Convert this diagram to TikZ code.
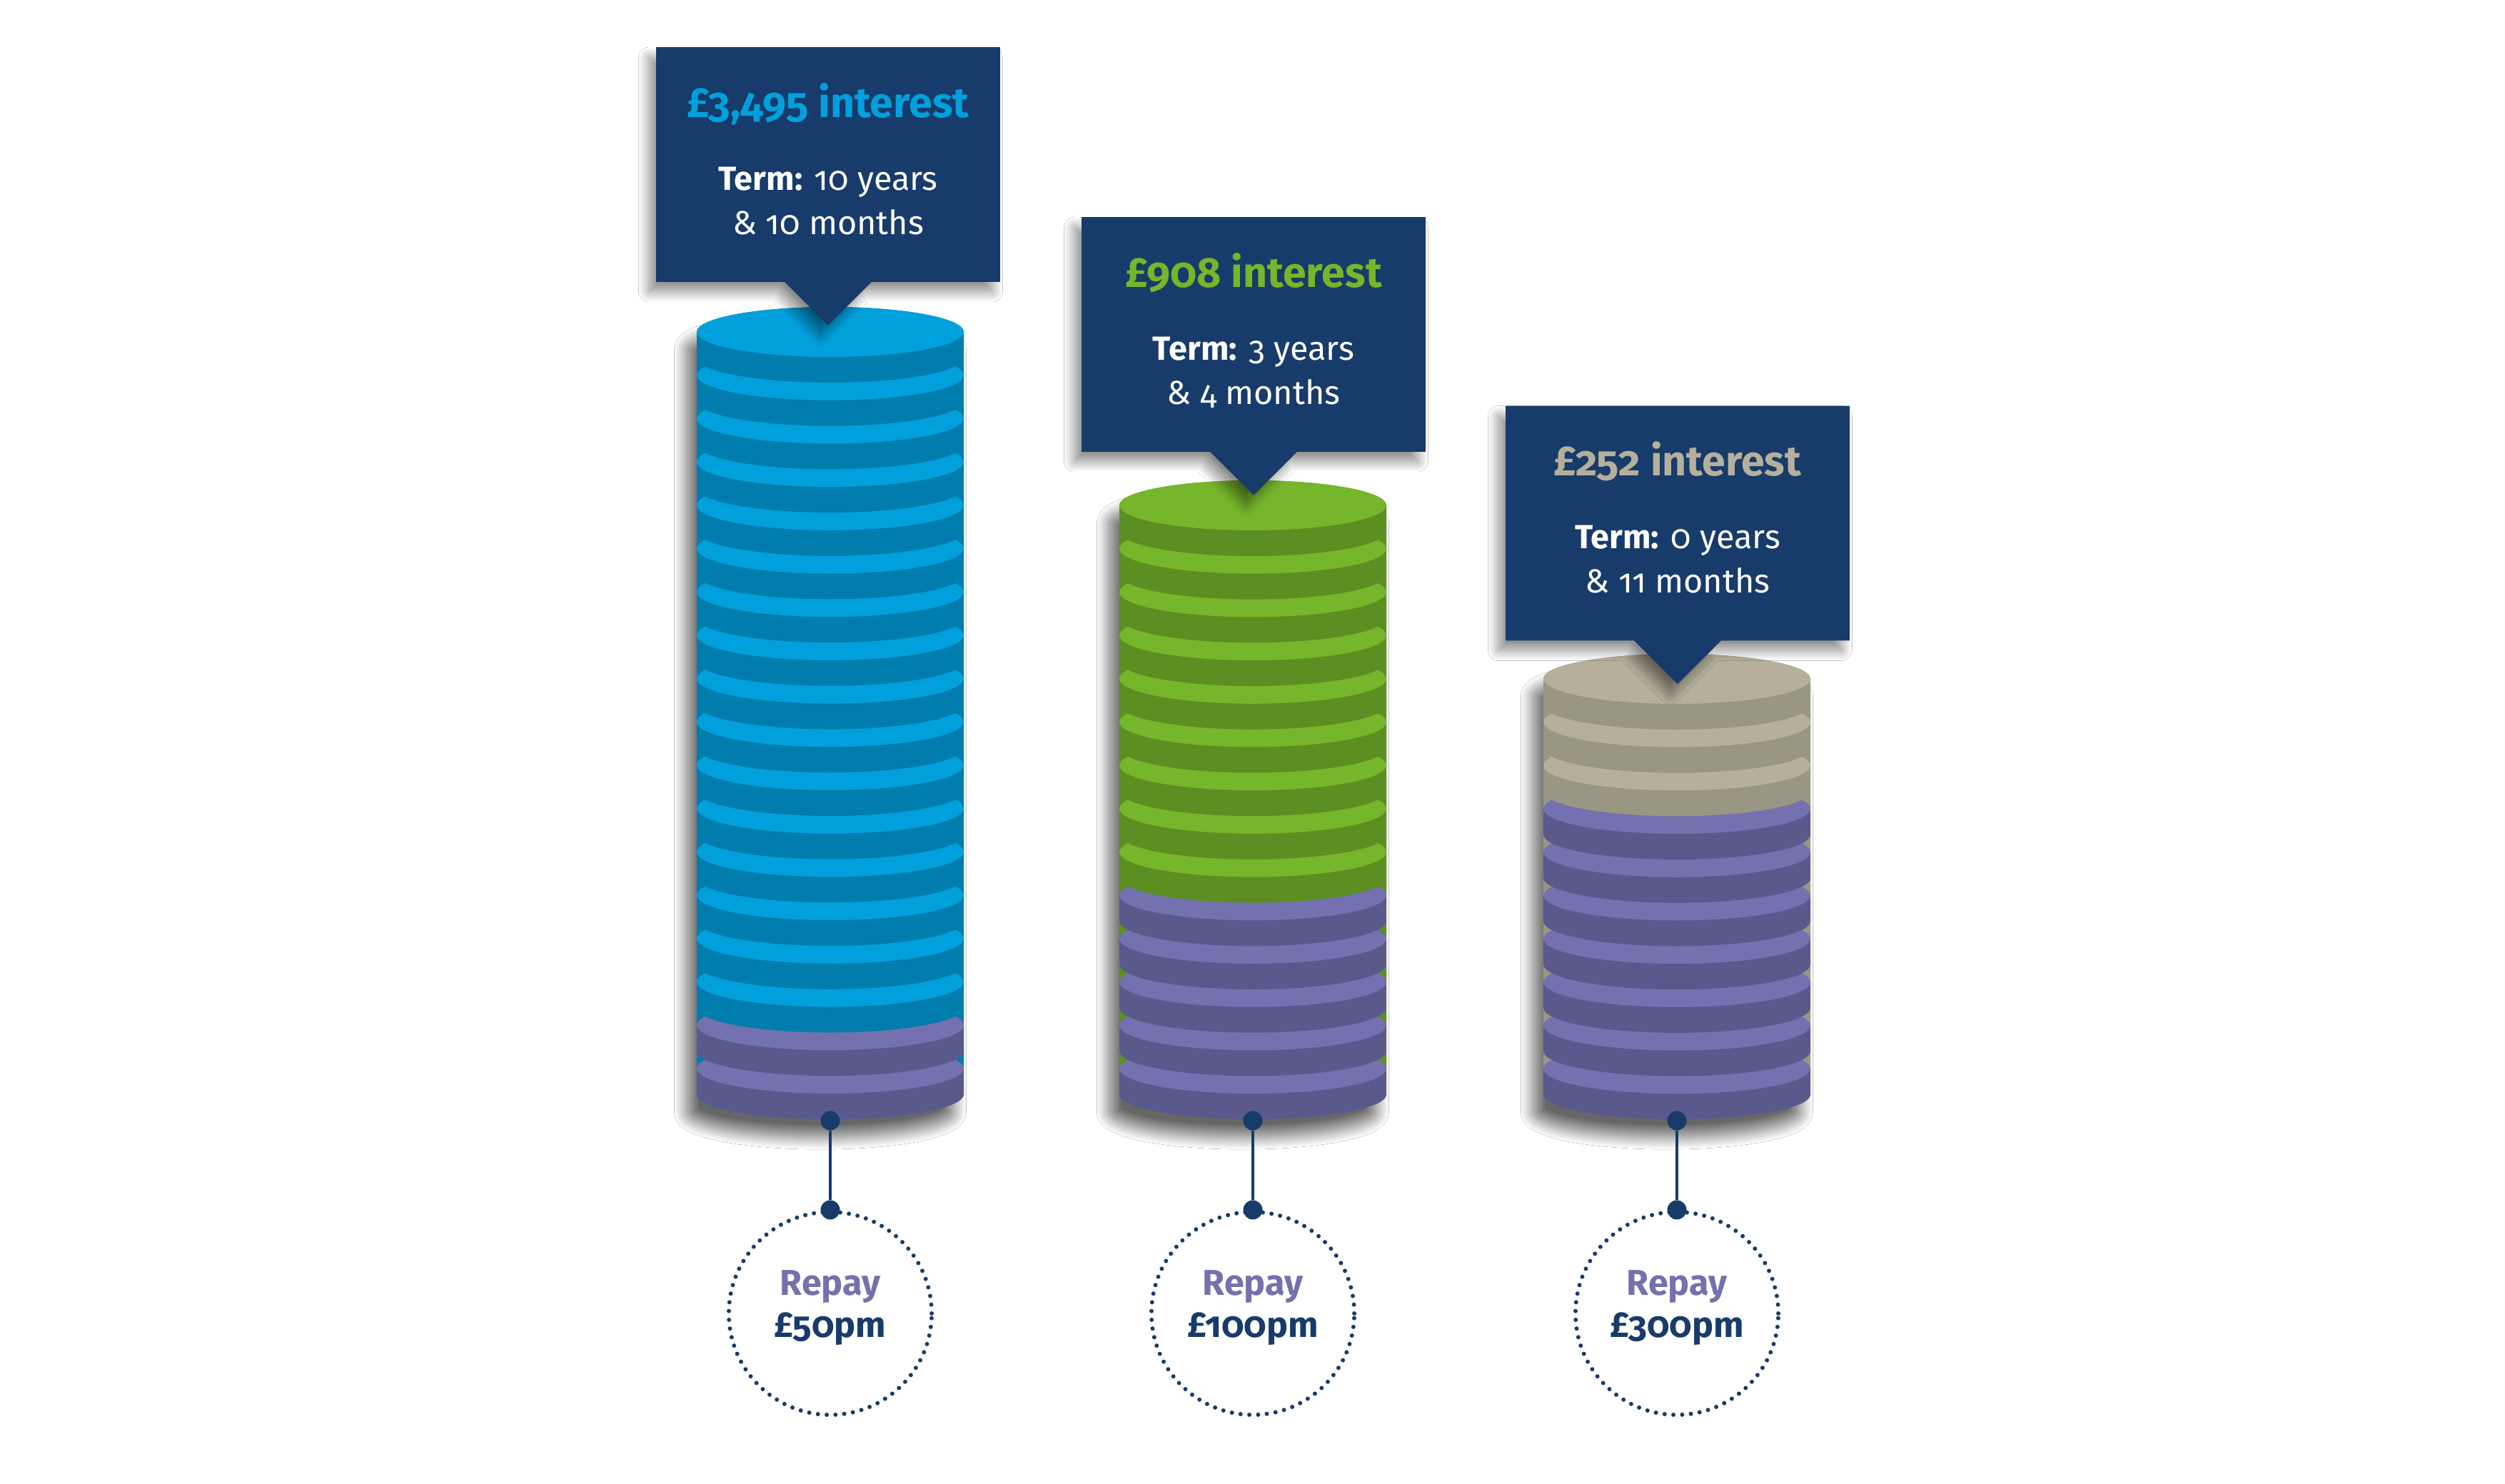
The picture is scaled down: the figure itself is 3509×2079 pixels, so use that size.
\documentclass[tikz,border=0pt]{standalone}
\usepackage{fontspec}
\setmainfont{Fira Sans}[Numbers=OldStyle]
\usetikzlibrary{calc,shadows.blur}

\definecolor{marine}{RGB}{23,59,106}
\definecolor{bleuA}{RGB}{0,160,220}
\definecolor{bleuB}{RGB}{0,125,173}
\definecolor{vertA}{RGB}{118,182,42}
\definecolor{vertB}{RGB}{92,142,34}
\definecolor{beigeA}{RGB}{181,175,155}
\definecolor{beigeB}{RGB}{153,150,131}
\definecolor{violetA}{RGB}{115,113,175}
\definecolor{violetB}{RGB}{90,89,140}

\begin{document}
\begin{tikzpicture}[x=0.01cm, y=-0.01cm,
    boite/.style={minimum width=4.8cm, minimum height=3.27cm, inner sep=0pt},
    ombre/.style={blur shadow={shadow xshift=-3pt, shadow yshift=-4pt, shadow blur radius=4pt, shadow blur steps=25, shadow opacity=45}},
    ombrepile/.style={blur shadow={shadow xshift=-4pt, shadow yshift=-7pt, shadow blur radius=5pt, shadow blur steps=25, shadow opacity=60}},
    titre/.style={anchor=base, inner sep=0pt, font=\fontsize{16.8}{20}\selectfont\bfseries},
    terme/.style={anchor=base, inner sep=0pt, text=white, font=\fontsize{13.3}{16}\selectfont},
    rond/.style={circle, draw=marine, line width=1.7pt, dash pattern=on 0pt off 3.5pt, line cap=round, minimum size=2.84cm, inner sep=0pt},
    point/.style={circle, fill=marine, minimum size=0.27cm, inner sep=0pt},
    lien/.style={marine, line width=1.3pt},
    repay/.style={anchor=base, inner sep=0pt, font=\fontsize{14.3}{17}\selectfont\bfseries}]

    % Fond blanc
    \fill[white] (0,0) rectangle (3509,2079);
    \useasboundingbox (0,0) rectangle (3509,2079);

    % Piles de pièces (de bas en haut)
    \foreach \cx/\yt/\n/\k/\dessus/\cote in {1163/465/17/16/bleuA/bleuB, 1755/708/13/9/vertA/vertB, 2349/951/9/3/beigeA/beigeB} {
        \fill[\cote, ombrepile] (\cx-187,\yt) -- (\cx-187,1533)
            arc[start angle=180, end angle=0, x radius=187, y radius=35] -- (\cx+187,\yt)
            arc[start angle=0, end angle=-180, x radius=187, y radius=35] -- cycle;
        \foreach \i in {\n,...,0} {
            \pgfmathsetmacro\yc{\yt+60.7*\i}
            \ifnum\i<\k\relax \colorlet{haut}{\dessus}\colorlet{bas}{\cote}\else \colorlet{haut}{violetA}\colorlet{bas}{violetB}\fi
            \fill[bas] (\cx-187,\yc) rectangle (\cx+187,\yc+36);
            \fill[bas] (\cx,\yc+36) ellipse[x radius=187, y radius=35];
            \fill[haut] (\cx,\yc) ellipse[x radius=187, y radius=35];
        }
    }

    % Bulles d'information
    \node[boite] (b1) at (1160,230.5) {};
    \node[boite] (b2) at (1756,468.5) {};
    \node[boite] (b3) at (2350,733) {};
    \foreach \b in {b1,b2,b3} {
        \fill[marine, ombre] (\b.north west) -- (\b.north east) -- (\b.south east)
            -- ($(\b.south)+(61,0)$) -- ($(\b.south)+(0,61)$) -- ($(\b.south)+(-61,0)$)
            -- (\b.south west) -- cycle;
    }

    % Textes des bulles
    \node[titre, text=bleuA] (t1) at ($(b1.north)+(0,98)$) {£3,495 interest};
    \node[terme] (u1) at ($(b1.north)+(0,200)$) {\textbf{Term:} 10 years};
    \node[terme] (v1) at ($(b1.north)+(0,262)$) {\& 10 months};

    \node[titre, text=vertA] (t2) at ($(b2.north)+(0,98)$) {£908 interest};
    \node[terme] (u2) at ($(b2.north)+(0,200)$) {\textbf{Term:} 3 years};
    \node[terme] (v2) at ($(b2.north)+(0,262)$) {\& 4 months};

    \node[titre, text=beigeA] (t3) at ($(b3.north)+(0,98)$) {£252 interest};
    \node[terme] (u3) at ($(b3.north)+(0,200)$) {\textbf{Term:} 0 years};
    \node[terme] (v3) at ($(b3.north)+(0,262)$) {\& 11 months};

    % Cercles de remboursement et liens
    \foreach \c/\x/\somme in {1/1163/50, 2/1755/100, 3/2349/300} {
        \node[rond] (r\c) at (\x,1840) {};
        \node[point] (h\c) at (\x,1570) {};
        \node[point] (k\c) at (r\c.north) {};
        \draw[lien] (h\c) -- (k\c);
        \node[repay, text=violetA] (p\c) at ($(r\c.center)+(0,-26)$) {Repay};
        \node[repay, text=marine] (m\c) at ($(r\c.center)+(0,33)$) {£\somme pm};
    }
\end{tikzpicture}
\end{document}
